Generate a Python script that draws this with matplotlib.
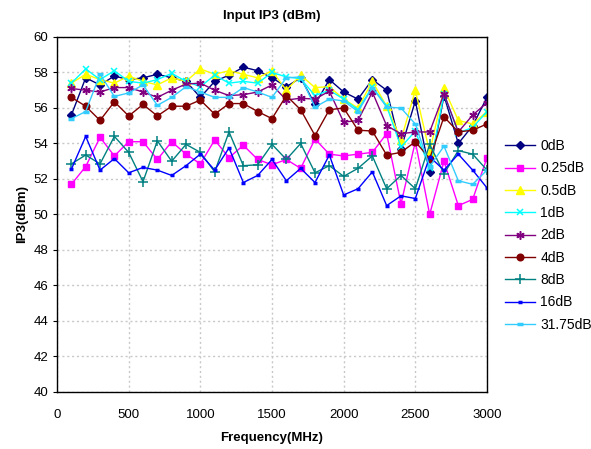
import matplotlib.pyplot as plt
import numpy as np

plt.rcParams['font.family'] = ['Liberation Sans', 'DejaVu Sans']

freq = list(range(100, 3001, 100))

db0 = [55.6, 57.7, 57.3, 57.8, 57.6, 57.7, 57.9, 57.7, 57.5, 56.6,
       57.5, 57.85, 58.3, 58.1, 57.7, 57.2, 57.7, 56.2, 57.6, 56.9,
       56.5, 57.6, 57.0, 53.7, 56.4, 52.4, 56.7, 54.0, 55.0, 56.6]
db025 = [51.7, 52.7, 54.35, 53.3, 54.1, 54.1, 53.1, 54.1, 53.4, 52.85,
         54.2, 53.2, 53.9, 53.1, 52.8, 53.1, 52.6, 54.25, 53.4, 53.3,
         53.4, 53.5, 54.55, 50.6, 54.1, 50.0, 53.0, 50.5, 50.85, 53.2]
db05 = [57.4, 57.9, 57.6, 57.4, 57.8, 57.5, 57.3, 57.7, 57.5, 58.2,
        57.9, 58.1, 57.9, 57.7, 58.1, 57.0, 57.85, 57.15, 57.2, 56.5,
        56.0, 57.5, 56.1, 54.2, 57.0, 53.5, 57.1, 55.3, 55.1, 55.8]
db1 = [57.4, 58.2, 57.6, 58.1, 57.5, 57.4, 57.6, 57.95, 57.5, 57.2,
       57.85, 57.4, 57.5, 57.4, 58.0, 57.75, 57.65, 56.7, 57.0, 56.5,
       55.9, 57.2, 56.1, 53.8, 54.7, 52.6, 56.8, 54.6, 54.9, 55.8]
db2 = [57.1, 57.0, 56.9, 57.15, 57.15, 56.9, 56.6, 57.0, 57.35, 57.4,
       57.0, 56.7, 56.75, 56.9, 57.3, 56.45, 56.55, 56.5, 56.95, 55.2,
       55.3, 56.9, 55.0, 54.55, 54.65, 54.65, 56.8, 54.65, 55.6, 56.3]
db4 = [56.6, 56.1, 55.3, 56.35, 55.55, 56.2, 55.55, 56.1, 56.1, 56.45,
       55.65, 56.25, 56.25, 55.8, 55.4, 56.7, 55.9, 54.45, 55.9, 56.0,
       54.75, 54.7, 53.35, 53.5, 54.1, 53.15, 55.5, 54.65, 54.75, 55.1]
db8 = [52.85, 53.35, 52.85, 54.4, 53.5, 51.85, 54.15, 53.0, 53.95, 53.5,
       52.4, 54.65, 52.75, 52.8, 53.95, 53.1, 54.0, 52.35, 52.75, 52.15,
       52.6, 53.3, 51.45, 52.2, 51.45, 53.95, 52.3, 53.6, 53.4, 52.5]
db16 = [52.55, 54.4, 52.5, 53.15, 52.35, 52.65, 52.5, 52.2, 52.75, 53.4,
        52.5, 53.75, 51.8, 52.2, 53.1, 51.9, 52.6, 51.8, 53.35, 51.1,
        51.45, 52.4, 50.5, 51.05, 50.9, 53.25, 52.5, 53.4, 52.5, 51.5]
db3175 = [55.4, 55.8, 57.9, 56.65, 56.85, 57.3, 56.15, 56.6, 57.2, 56.9,
          56.6, 56.6, 57.15, 56.9, 56.6, 57.7, 57.75, 56.05, 56.5, 56.4,
          55.8, 57.15, 56.05, 56.0, 55.1, 52.7, 53.85, 51.9, 51.7, 52.5]

labels = ['0dB', '0.25dB', '0.5dB', '1dB', '2dB', '4dB', '8dB', '16dB', '31.75dB']
series = [db0, db025, db05, db1, db2, db4, db8, db16, db3175]
styles = [
    dict(color='#000080', marker='D', ms=4),
    dict(color='#FF00FF', marker='s', ms=4.5),
    dict(color='#FFFF00', marker='^', ms=5.5),
    dict(color='#00FFFF', marker='x', ms=5, mew=1.1),
    dict(color='#800080', marker=(6, 2, 0), ms=6, mew=1.1),
    dict(color='#800000', marker='o', ms=4.8),
    dict(color='#008080', marker='+', ms=7, mew=1.1),
    dict(color='#0000FF', marker='_', ms=3.5, mew=2.5),
    dict(color='#33CCFF', marker='_', ms=4.5, mew=2.5),
]

fig = plt.figure(figsize=(5.91, 4.49), dpi=100)
ax = fig.add_axes([0.0965, 0.127, 0.7275, 0.7906])

for lab, vals, st in zip(labels, series, styles):
    ax.plot(freq, vals, lw=1, label=lab, **st)

ax.set_xlim(0, 3000)
ax.set_ylim(40, 60)
ax.set_xticks(np.arange(0, 3001, 500))
ax.set_yticks(np.arange(40, 61, 2))
ax.grid(True, color='#C8C8C8', linestyle=(0, (1.5, 2)), lw=1)
ax.tick_params(axis='x', length=0, labelsize=9.5, pad=12)
ax.tick_params(axis='y', direction='out', length=3, labelsize=9.5)
for s in ax.spines.values():
    s.set_linewidth(1)

ax.set_title('Input IP3 (dBm)', fontsize=9.5, fontweight='bold', pad=13)
ax.set_xlabel('Frequency(MHz)', fontsize=9.5, fontweight='bold', labelpad=8)
ax.set_ylabel('IP3(dBm)', fontsize=9.5, fontweight='bold', labelpad=4)

fig.legend(loc='upper left', bbox_to_anchor=(0.833, 0.718), frameon=False,
           fontsize=10, handlelength=2.2, labelspacing=0.6, handletextpad=0.35)

fig.savefig('out.png', dpi=100)
